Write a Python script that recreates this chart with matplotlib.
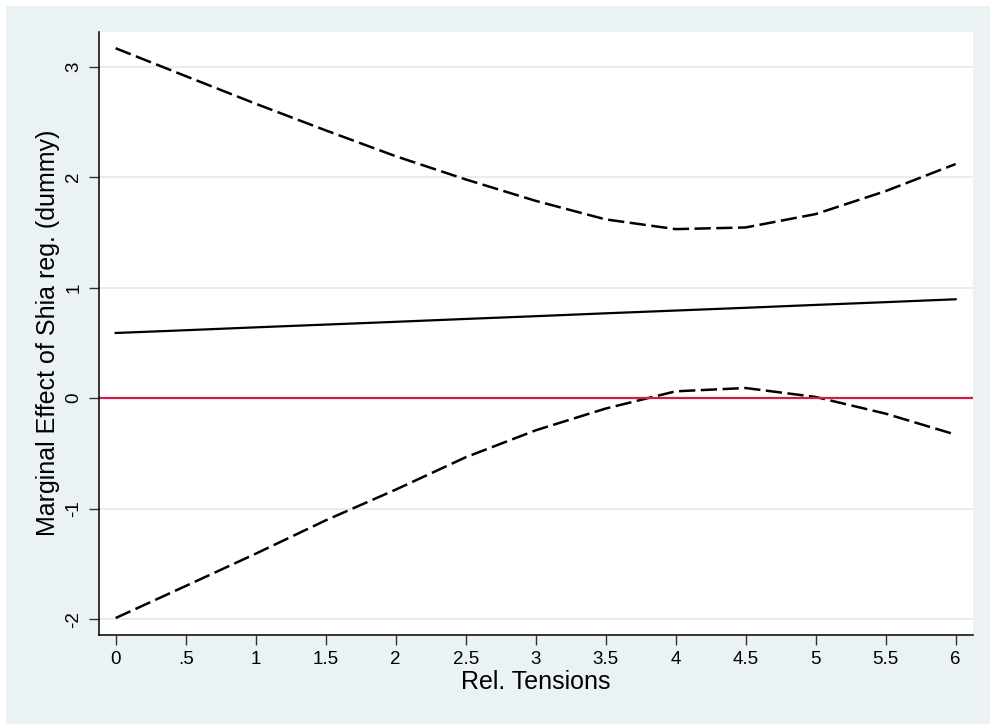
import matplotlib.pyplot as plt
from matplotlib.patches import Rectangle

plt.rcParams['font.family'] = ['Liberation Sans', 'DejaVu Sans']

# marginal effect and 95% bounds over relative tensions
tension = [0, 0.5, 1, 1.5, 2, 2.5, 3, 3.5, 4, 4.5, 5, 5.5, 6]
effect = [0.590, 0.615, 0.641, 0.666, 0.691, 0.717, 0.742, 0.768, 0.793, 0.818, 0.844, 0.869, 0.895]
upper = [3.167, 2.915, 2.665, 2.424, 2.190, 1.980, 1.786, 1.618, 1.530, 1.545, 1.666, 1.874, 2.119]
lower = [-1.990, -1.700, -1.408, -1.106, -0.828, -0.535, -0.291, -0.094, 0.062, 0.092, 0.011, -0.140, -0.330]

xticks = [0, 0.5, 1, 1.5, 2, 2.5, 3, 3.5, 4, 4.5, 5, 5.5, 6]
xticklabels = ['0', '.5', '1', '1.5', '2', '2.5', '3', '3.5', '4', '4.5', '5', '5.5', '6']
yticks = [-2, -1, 0, 1, 2, 3]
yticklabels = ['-2', '-1', '0', '1', '2', '3']

bg = '#EAF2F3'
fig = plt.figure(figsize=(9.9, 7.24), dpi=100)
fig.patch.set_facecolor('white')
fig.patches.append(Rectangle((6/990, 0), 984/990, 718/724, transform=fig.transFigure,
                             facecolor=bg, edgecolor='none', zorder=-10))

ax = fig.add_axes([0.1, 0.1236, 0.8828, 0.8322])
ax.set_facecolor('white')

for y in yticks:
    ax.axhline(y, color='#E4EDEF', lw=1.3, zorder=0)

ax.plot(tension, upper, color='black', lw=1.8, ls=(0, (6.5, 2.2)))
ax.plot(tension, lower, color='black', lw=1.8, ls=(0, (6.5, 2.2)))
ax.plot(tension, effect, color='black', lw=1.6)
ax.axhline(0, color='#CD1F48', lw=1.6)

ax.set_xlim(-0.119, 6.124)
ax.set_ylim(-2.139, 3.314)

ax.set_xticks(xticks)
ax.set_xticklabels(xticklabels)
ax.set_yticks(yticks)
ax.set_yticklabels(yticklabels, rotation=90, va='center')

ax.tick_params(axis='both', length=7, width=1, color='#333333', labelsize=13.5)
ax.tick_params(axis='x', pad=5)
ax.tick_params(axis='y', pad=5)

for s in ['top', 'right']:
    ax.spines[s].set_visible(False)
for s in ['left', 'bottom']:
    ax.spines[s].set_linewidth(1.1)
    ax.spines[s].set_color('black')

ax.set_xlabel('Rel. Tensions', fontsize=18, labelpad=1)
ax.set_ylabel('Marginal Effect of Shia reg. (dummy)', fontsize=18, labelpad=4)

fig.savefig('out.png', dpi=100, facecolor=fig.get_facecolor())
